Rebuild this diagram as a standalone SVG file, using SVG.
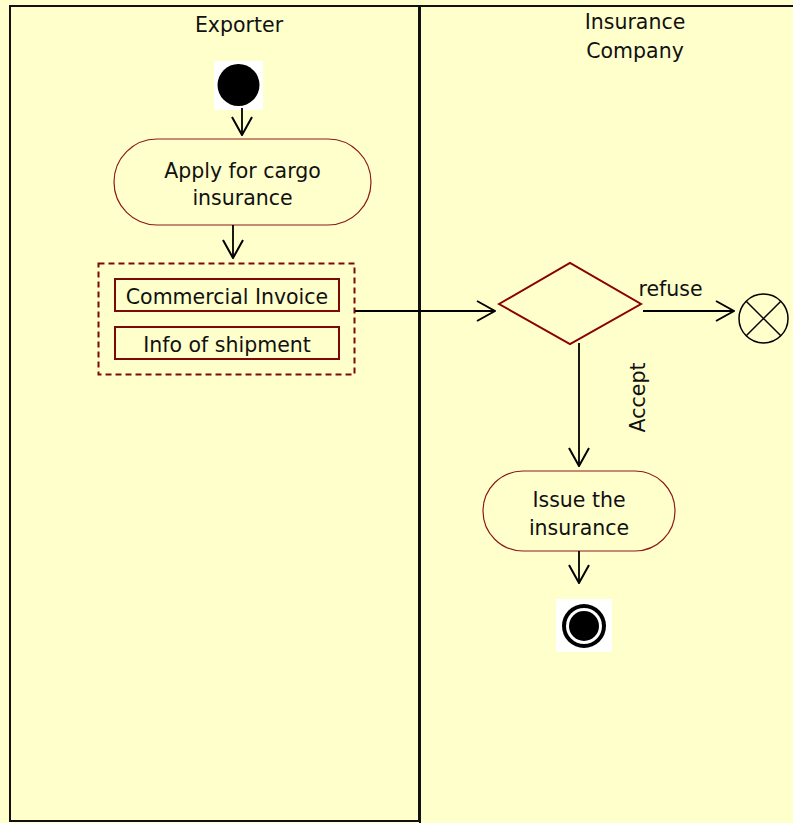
<svg xmlns="http://www.w3.org/2000/svg" width="793" height="823" viewBox="0 0 793 823">
<defs>
<style>
text{font-family:"DejaVu Sans","Liberation Sans",sans-serif;font-size:20.5px;fill:#111;text-anchor:middle}
.lane{fill:none;stroke:#111;stroke-width:2}
.act{fill:#FFFFCC;stroke:#8B1A1A;stroke-width:1.2}
.obj{fill:#FFFFCC;stroke:#7A0A0A;stroke-width:2}
.conn{fill:none;stroke:#000;stroke-width:1.8}
</style>
<marker id="arr" viewBox="0 0 20 22" refX="19" refY="11" markerWidth="20" markerHeight="22" markerUnits="userSpaceOnUse" orient="auto">
<path d="M1,1 L19,11 L1,21" fill="none" stroke="#000" stroke-width="2"/>
</marker>
</defs>
<rect width="793" height="823" fill="#FFFFCC"/>
<g id="lane-exporter">
<rect class="lane" x="10" y="6" width="409" height="815"/>
<text x="239" y="32">Exporter</text>
</g>
<g id="lane-insurance">
<path class="lane" d="M419,6 H793 M420,6 V823" stroke-width="2.5"/>
<text x="635" y="29">Insurance</text>
<text x="635" y="58">Company</text>
</g>
<g id="start">
<rect x="214" y="61" width="49" height="49" fill="#fff"/>
<circle cx="238.5" cy="85" r="21" fill="#000"/>
</g>
<g id="apply">
<rect class="act" x="114" y="139" width="257" height="86" rx="43" ry="43"/>
<text x="242.5" y="178">Apply for cargo</text>
<text x="242.5" y="205">insurance</text>
</g>
<g id="documents">
<rect x="98.5" y="263.5" width="256" height="111" fill="none" stroke="#7A0A0A" stroke-width="2" stroke-dasharray="6,4"/>
<g id="invoice">
<rect class="obj" x="115" y="279" width="224" height="32"/>
<text x="227" y="304">Commercial Invoice</text>
</g>
<g id="shipment">
<rect class="obj" x="115" y="327" width="224" height="32"/>
<text x="227" y="352">Info of shipment</text>
</g>
</g>
<g id="decision">
<polygon points="499,304 570,263 641,304 570,344" fill="none" stroke="#8B0000" stroke-width="2"/>
</g>
<g id="flow-final">
<circle cx="763.5" cy="318.5" r="24.5" fill="none" stroke="#000" stroke-width="1.5"/>
<path d="M746.2,301.2 L780.8,335.8 M780.8,301.2 L746.2,335.8" stroke="#000" stroke-width="1.5"/>
</g>
<g id="issue">
<rect class="act" x="483" y="471" width="192" height="80" rx="40" ry="40"/>
<text x="579" y="507">Issue the</text>
<text x="579" y="535">insurance</text>
</g>
<g id="end">
<rect x="556" y="599" width="56" height="53" fill="#fff"/>
<circle cx="584" cy="626" r="22" fill="#000"/>
<circle cx="584" cy="626" r="18" fill="#fff"/>
<circle cx="584" cy="626" r="15" fill="#000"/>
</g>
<g id="connectors">
<line class="conn" x1="242" y1="108" x2="242" y2="135" marker-end="url(#arr)"/>
<line class="conn" x1="233" y1="225" x2="233" y2="258" marker-end="url(#arr)"/>
<line class="conn" x1="355" y1="311" x2="495" y2="311" marker-end="url(#arr)"/>
<line class="conn" x1="643" y1="311" x2="734" y2="311" marker-end="url(#arr)"/>
<line class="conn" x1="579" y1="343" x2="579" y2="466" marker-end="url(#arr)"/>
<line class="conn" x1="579" y1="551" x2="579" y2="583" marker-end="url(#arr)"/>
<text x="670.5" y="296">refuse</text>
<text transform="translate(645,397.5) rotate(-90)" x="0" y="0">Accept</text>
</g>
</svg>
